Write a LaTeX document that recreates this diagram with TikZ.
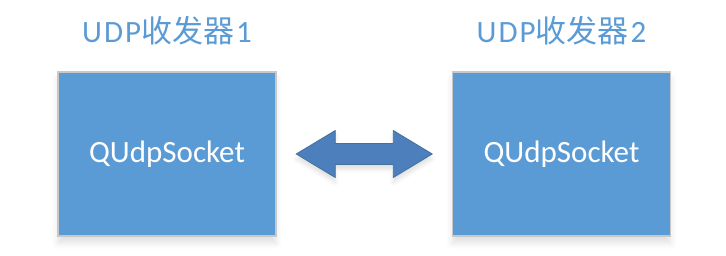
\documentclass[tikz,border=0pt]{standalone}
\usepackage{fontspec}
\setmainfont{Carlito}
\newfontfamily\cjk{Noto Sans CJK SC}
\usetikzlibrary{positioning, calc, shadows.blur}
\definecolor{boxblue}{RGB}{91,155,213}
\definecolor{arrblue}{RGB}{76,127,188}
\definecolor{arrline}{RGB}{65,113,156}
\definecolor{boxline}{RGB}{200,200,200}
\newcommand{\zh}[1]{{\cjk #1}}
\newcommand{\ttlgap}{\kern2pt}
\tikzset{
  sockbox/.style={rectangle, draw=boxline, fill=boxblue, line width=1.5pt,
    minimum width=218pt, minimum height=164pt, inner sep=0pt,
    text=white, font=\fontsize{31}{36}\selectfont,
    blur shadow={shadow xshift=0pt, shadow yshift=-7pt,
      shadow blur radius=6pt, shadow opacity=12}},
  title/.style={text=boxblue, font=\fontsize{31}{36}\selectfont, inner sep=0pt},
  dblarrow/.style={fill=arrblue, draw=arrline, line width=0.8pt, line join=miter,
    blur shadow={shadow xshift=0pt, shadow yshift=-5pt,
      shadow blur radius=4pt, shadow opacity=12}}
}
\begin{document}
\begin{tikzpicture}[x=1pt, y=-1pt]
  \useasboundingbox (0,0) rectangle (726,255);
  \node[sockbox] (box1) at (167,154) {QUdpSocket};
  \node[sockbox, right=175pt of box1] (box2) {QUdpSocket};
  \node[title, above=26pt of box1] (ttl1) {U\ttlgap D\ttlgap P\zh{收发器}\ttlgap 1};
  \node[title, above=26pt of box2] (ttl2) {U\ttlgap D\ttlgap P\zh{收发器}\ttlgap 2};

  % two-way arrow between the sockets
  \coordinate (mid) at ($(box1.east)!0.5!(box2.west)$);
  \draw[dblarrow] ($(mid)+(-68,0)$) -- ++(39,-23.5) -- ++(0,13) -- ++(58,0)
    -- ++(0,-13) -- ++(39,23.5) -- ++(-39,23.5) -- ++(0,-13) -- ++(-58,0)
    -- ++(0,13) -- cycle;
\end{tikzpicture}
\end{document}
